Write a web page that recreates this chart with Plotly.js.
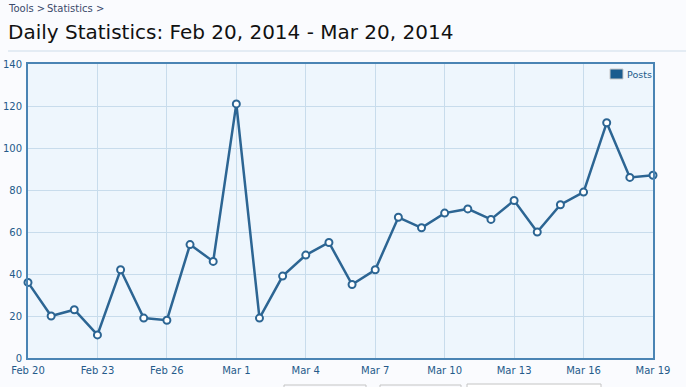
<!DOCTYPE html>
<html>
<head>
<meta charset="utf-8">
<script src="https://cdn.plot.ly/plotly-3.0.1.min.js"></script>
<style>html,body{margin:0;padding:0;background:#fafbfe;}#chart{width:686px;height:387px;}</style>
</head>
<body>
<div id="chart"></div>
<script>
const dates = ['2014-02-20','2014-02-21','2014-02-22','2014-02-23','2014-02-24','2014-02-25','2014-02-26','2014-02-27','2014-02-28','2014-03-01','2014-03-02','2014-03-03','2014-03-04','2014-03-05','2014-03-06','2014-03-07','2014-03-08','2014-03-09','2014-03-10','2014-03-11','2014-03-12','2014-03-13','2014-03-14','2014-03-15','2014-03-16','2014-03-17','2014-03-18','2014-03-19'];
const posts = [36,20,23,11,42,19,18,54,46,121,19,39,49,55,35,42,67,62,69,71,66,75,60,73,79,112,86,87];
const tickDates = ['2014-02-20','2014-02-23','2014-02-26','2014-03-01','2014-03-04','2014-03-07','2014-03-10','2014-03-13','2014-03-16','2014-03-19'];
const tickLabels = ['Feb 20','Feb 23','Feb 26','Mar 1','Mar 4','Mar 7','Mar 10','Mar 13','Mar 16','Mar 19'];
const seriesName = 'Posts';
const pageTitle = 'Daily Statistics: Feb 20, 2014 - Mar 20, 2014';

const font = 'Tahoma, "DejaVu Sans", sans-serif';
const lineColor = '#2c6593';

const trace = {
  x: dates, y: posts, type: 'scatter', mode: 'lines+markers', name: seriesName,
  line: {color: lineColor, width: 2.5},
  marker: {symbol: 'circle', size: 7, color: '#ffffff', line: {color: lineColor, width: 2}},
  cliponaxis: false, showlegend: false, hoverinfo: 'x+y'
};

const layout = {
  width: 686, height: 387,
  margin: {l: 28, r: 33, t: 64, b: 29, pad: 0},
  paper_bgcolor: '#fafbfe', plot_bgcolor: '#eef6fd',
  font: {family: font, size: 10, color: '#245a8a'},
  xaxis: {
    type: 'date', range: ['2014-02-20', '2014-03-19'],
    tickvals: tickDates, ticktext: tickLabels,
    showgrid: true, gridcolor: '#c8dcec', gridwidth: 1,
    showline: true, linecolor: '#4a84b4', linewidth: 2, mirror: true,
    ticks: '', ticklabelstandoff: 2, zeroline: false,
    tickfont: {family: font, size: 10, color: '#245a8a'}
  },
  yaxis: {
    range: [0, 140], dtick: 20, tick0: 0,
    showgrid: true, gridcolor: '#c8dcec', gridwidth: 1,
    showline: true, linecolor: '#4a84b4', linewidth: 2, mirror: true,
    ticks: '', ticklabelstandoff: 2, zeroline: false,
    tickfont: {family: font, size: 10, color: '#245a8a'}
  },
  shapes: [
    {type: 'line', xref: 'paper', yref: 'paper', x0: -20/625, x1: 658/625, y0: (358-51)/294, y1: (358-51)/294, line: {color: '#dce7f1', width: 1.5}},
    {type: 'rect', xref: 'paper', yref: 'paper', x0: (610-28)/625, x1: (623-28)/625, y0: (358-69)/294, y1: (358-79)/294, fillcolor: '#1a5c8e', line: {color: '#c9c9c9', width: 1}},
    {type: 'rect', xref: 'paper', yref: 'paper', x0: (284-28)/625, x1: (366-28)/625, y0: -(385-358)/294, y1: -(395-358)/294, fillcolor: '#fafbfe', line: {color: '#c4c4c4', width: 1}},
    {type: 'rect', xref: 'paper', yref: 'paper', x0: (380-28)/625, x1: (461-28)/625, y0: -(385-358)/294, y1: -(395-358)/294, fillcolor: '#fafbfe', line: {color: '#c4c4c4', width: 1}},
    {type: 'rect', xref: 'paper', yref: 'paper', x0: (467-28)/625, x1: (601-28)/625, y0: -(384-358)/294, y1: -(395-358)/294, fillcolor: '#ffffff', line: {color: '#c4c4c4', width: 1}}
  ],
  annotations: [
    {text: 'Tools &gt;', xref: 'paper', yref: 'paper', x: (6-28)/625, y: (358-8)/294, xanchor: 'left', yanchor: 'middle', showarrow: false, font: {family: font, size: 10, color: '#3b4a6b'}},
    {text: 'Statistics &gt;', xref: 'paper', yref: 'paper', x: (45-28)/625, y: (358-8)/294, xanchor: 'left', yanchor: 'middle', showarrow: false, font: {family: font, size: 10, color: '#3b4a6b'}},
    {text: pageTitle, xref: 'paper', yref: 'paper', x: (6-28)/625, y: (358-32)/294, xanchor: 'left', yanchor: 'middle', showarrow: false, font: {family: font, size: 20, color: '#111111'}},
    {text: seriesName, xref: 'paper', yref: 'paper', x: (625-28)/625, y: (358-74)/294, xanchor: 'left', yanchor: 'middle', showarrow: false, font: {family: font, size: 9.5, color: '#245a8a'}}
  ]
};

Plotly.newPlot('chart', [trace], layout, {displayModeBar: false, staticPlot: true});
</script>
</body>
</html>
